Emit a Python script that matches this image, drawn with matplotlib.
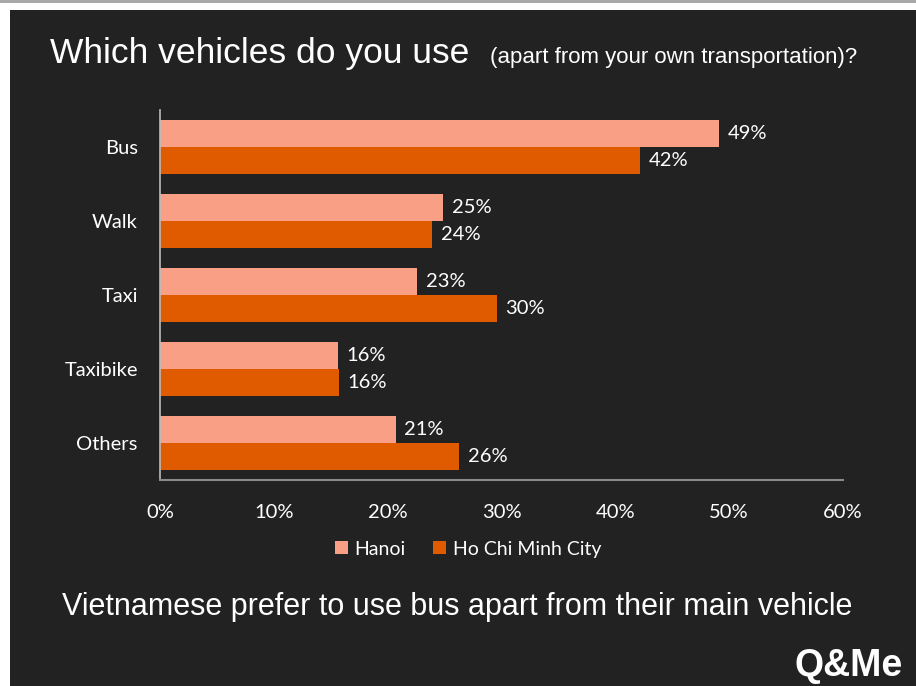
import matplotlib.pyplot as plt
import numpy as np
from matplotlib.patches import Rectangle

categories = ["Bus", "Walk", "Taxi", "Taxibike", "Others"]
hanoi = [49.1, 24.9, 22.6, 15.6, 20.7]
hcmc = [42.2, 23.9, 29.6, 15.7, 26.3]
series_names = ["Hanoi", "Ho Chi Minh City"]
xticks = [0, 10, 20, 30, 40, 50, 60]

HANOI_COLOR = "#F99F86"
HCMC_COLOR = "#E05A00"
BG = "#222222"
W, H = 916, 686

plt.rcParams["font.family"] = ["Lato", "DejaVu Sans"]

fig = plt.figure(figsize=(W / 100, H / 100), dpi=100)
fig.patch.set_facecolor("white")

# dark slide area and thin grey strip along the top
fig.patches.append(Rectangle((10 / W, 0), 1, 1 - 10 / H, transform=fig.transFigure,
                             facecolor=BG, edgecolor="none", zorder=-10))
fig.patches.append(Rectangle((0, 1 - 3 / H), 1, 3 / H, transform=fig.transFigure,
                             facecolor="#A8A8A8", edgecolor="none", zorder=-10))

ax = fig.add_axes([160 / W, 1 - 480 / H, (843 - 160) / W, 370 / H])
ax.set_facecolor("none")

y = np.arange(len(categories))
bh = 0.365
ax.barh(y - bh / 2, hanoi, height=bh, color=HANOI_COLOR, label=series_names[0])
ax.barh(y + bh / 2, hcmc, height=bh, color=HCMC_COLOR, label=series_names[1])

for i in range(len(categories)):
    ax.text(hanoi[i] + 0.75, y[i] - bh / 2, f"{hanoi[i]:.0f}%", color="white",
            fontsize=14.5, va="center", ha="left")
    ax.text(hcmc[i] + 0.75, y[i] + bh / 2, f"{hcmc[i]:.0f}%", color="white",
            fontsize=14.5, va="center", ha="left")

ax.set_xlim(0, 60)
ax.set_ylim(len(categories) - 0.5, -0.5)
ax.set_yticks(y)
ax.set_yticklabels(categories)
ax.set_xticks(xticks)
ax.set_xticklabels([f"{t}%" for t in xticks])
ax.tick_params(axis="both", length=0, colors="white", labelsize=14.5)
ax.tick_params(axis="x", pad=17)
ax.tick_params(axis="y", pad=16)
for side in ["top", "right"]:
    ax.spines[side].set_visible(False)
ax.spines["left"].set_color("#BBBBBB")
ax.spines["bottom"].set_color("#8A8A8A")
ax.spines["left"].set_linewidth(1.2)
ax.spines["bottom"].set_linewidth(1.5)

leg = ax.legend(loc="upper center", bbox_to_anchor=(0.451, -0.117), ncol=2, frameon=False,
                fontsize=14, labelcolor="white", handlelength=0.65, handleheight=0.65,
                handletextpad=0.35, columnspacing=1.4)

fig.text(50 / W, 1 - 63 / H, "Which vehicles do you use", color="white", fontsize=25.5,
         family="Liberation Sans", va="baseline")
fig.text(490 / W, 1 - 63 / H, "(apart from your own transportation)?", color="white",
         fontsize=16, family="Liberation Sans", va="baseline")
fig.text(62 / W, 1 - 615 / H, "Vietnamese prefer to use bus apart from their main vehicle",
         color="white", fontsize=22, family="Liberation Sans", ha="left", va="baseline")
fig.text(794 / W, 2 / H, "Q&Me", color="white", fontsize=27, fontweight="bold",
         family="Liberation Sans", va="bottom", ha="left")

fig.savefig("out.png", dpi=100, facecolor=fig.get_facecolor())
